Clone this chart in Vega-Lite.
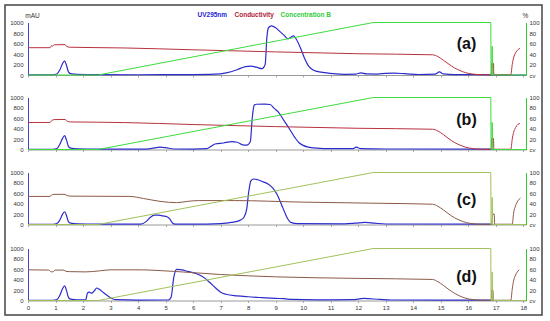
{
  "$schema": "https://vega.github.io/schema/vega-lite/v6.json",
  "width": 537,
  "height": 310,
  "padding": {"left": 5, "top": 5, "right": 8, "bottom": 6},
  "autosize": {"type": "none"},
  "config": {
    "font": "Liberation Sans",
    "view": {"stroke": "#444", "strokeWidth": 1.5},
    "axis": {"labelFont": "Liberation Sans", "labelFontSize": 6, "labelColor": "#333", "grid": false, "labelOverlap": false, "labelFlush": false, "titleFont": "Liberation Sans", "format": "d"},
    "line": {"strokeWidth": 1}
  },
  "datasets": {
    "a_uv": [{"x":0,"y":5},{"x":0.9,"y":5},{"x":1.05,"y":20},{"x":1.15,"y":90},{"x":1.25,"y":210},{"x":1.33,"y":270},{"x":1.4,"y":180},{"x":1.47,"y":60},{"x":1.55,"y":25},{"x":1.8,"y":12},{"x":2.5,"y":6},{"x":4,"y":5},{"x":6,"y":8},{"x":6.8,"y":15},{"x":7.2,"y":40},{"x":7.6,"y":100},{"x":7.9,"y":160},{"x":8.1,"y":170},{"x":8.3,"y":150},{"x":8.5,"y":120},{"x":8.62,"y":200},{"x":8.68,"y":700},{"x":8.74,"y":900},{"x":8.85,"y":935},{"x":9.0,"y":900},{"x":9.15,"y":830},{"x":9.3,"y":760},{"x":9.45,"y":690},{"x":9.55,"y":720},{"x":9.65,"y":745},{"x":9.75,"y":680},{"x":9.9,"y":520},{"x":10.05,"y":320},{"x":10.2,"y":170},{"x":10.35,"y":100},{"x":10.5,"y":70},{"x":10.8,"y":45},{"x":11.1,"y":25},{"x":11.5,"y":12},{"x":11.9,"y":15},{"x":12.1,"y":40},{"x":12.3,"y":20},{"x":12.7,"y":18},{"x":13.0,"y":32},{"x":13.3,"y":35},{"x":13.7,"y":25},{"x":14.2,"y":10},{"x":14.8,"y":15},{"x":14.95,"y":60},{"x":15.1,"y":20},{"x":15.5,"y":8},{"x":16.8,"y":8},{"x":16.85,"y":0},{"x":18.1,"y":0}],
    "a_cond": [{"x":0,"y":520},{"x":0.8,"y":520},{"x":0.85,"y":555},{"x":0.9,"y":550},{"x":0.95,"y":575},{"x":1.35,"y":578},{"x":1.4,"y":545},{"x":1.5,"y":530},{"x":2,"y":525},{"x":3.5,"y":515},{"x":6,"y":480},{"x":9,"y":440},{"x":12,"y":405},{"x":14.7,"y":385},{"x":14.9,"y":350},{"x":15.1,"y":280},{"x":15.3,"y":205},{"x":15.5,"y":135},{"x":15.7,"y":85},{"x":15.9,"y":45},{"x":16.1,"y":22},{"x":16.3,"y":10},{"x":16.5,"y":5},{"x":16.84,"y":5},{"x":16.85,"y":220},{"x":16.92,"y":220},{"x":16.93,"y":5},{"x":17.55,"y":5},{"x":17.6,"y":200},{"x":17.65,"y":330},{"x":17.72,"y":420},{"x":17.8,"y":480},{"x":17.88,"y":505}],
    "a_conc": [{"x":0,"y":0},{"x":2.55,"y":0},{"x":12.55,"y":100},{"x":16.82,"y":100},{"x":16.83,"y":0},{"x":16.86,"y":0},{"x":16.87,"y":55},{"x":16.89,"y":0},{"x":18.1,"y":0}],
    "b_uv": [{"x":0,"y":5},{"x":0.9,"y":5},{"x":1.05,"y":20},{"x":1.15,"y":90},{"x":1.25,"y":210},{"x":1.33,"y":265},{"x":1.4,"y":180},{"x":1.47,"y":60},{"x":1.55,"y":25},{"x":1.8,"y":12},{"x":2.5,"y":6},{"x":4.3,"y":8},{"x":4.6,"y":30},{"x":4.8,"y":45},{"x":5.0,"y":35},{"x":5.3,"y":10},{"x":6.0,"y":8},{"x":6.5,"y":15},{"x":6.65,"y":60},{"x":6.8,"y":105},{"x":7.1,"y":125},{"x":7.4,"y":150},{"x":7.6,"y":140},{"x":7.8,"y":90},{"x":7.95,"y":85},{"x":8.08,"y":150},{"x":8.15,"y":600},{"x":8.22,"y":850},{"x":8.3,"y":870},{"x":8.6,"y":872},{"x":8.8,"y":865},{"x":8.95,"y":790},{"x":9.1,"y":720},{"x":9.3,"y":560},{"x":9.5,"y":400},{"x":9.7,"y":230},{"x":9.85,"y":130},{"x":10.0,"y":80},{"x":10.15,"y":50},{"x":10.5,"y":25},{"x":11,"y":15},{"x":11.8,"y":15},{"x":11.93,"y":45},{"x":12.1,"y":15},{"x":13,"y":10},{"x":16.8,"y":8},{"x":16.85,"y":0},{"x":18.1,"y":0}],
    "b_cond": [{"x":0,"y":520},{"x":0.8,"y":520},{"x":0.85,"y":550},{"x":0.95,"y":575},{"x":1.35,"y":578},{"x":1.42,"y":545},{"x":1.55,"y":530},{"x":2.5,"y":525},{"x":3.5,"y":518},{"x":6,"y":480},{"x":9,"y":440},{"x":12,"y":408},{"x":14.7,"y":390},{"x":14.9,"y":355},{"x":15.1,"y":285},{"x":15.3,"y":205},{"x":15.5,"y":135},{"x":15.7,"y":85},{"x":15.9,"y":45},{"x":16.1,"y":22},{"x":16.3,"y":10},{"x":16.5,"y":5},{"x":16.84,"y":5},{"x":16.85,"y":210},{"x":16.92,"y":210},{"x":16.93,"y":5},{"x":17.55,"y":5},{"x":17.6,"y":200},{"x":17.65,"y":330},{"x":17.72,"y":420},{"x":17.8,"y":480},{"x":17.88,"y":500}],
    "b_conc": [{"x":0,"y":0},{"x":2.55,"y":0},{"x":12.55,"y":100},{"x":16.82,"y":100},{"x":16.83,"y":0},{"x":16.86,"y":0},{"x":16.87,"y":52},{"x":16.89,"y":0},{"x":18.1,"y":0}],
    "c_uv": [{"x":0,"y":5},{"x":0.9,"y":5},{"x":1.05,"y":20},{"x":1.15,"y":80},{"x":1.25,"y":190},{"x":1.33,"y":245},{"x":1.4,"y":170},{"x":1.47,"y":55},{"x":1.55,"y":25},{"x":1.8,"y":12},{"x":2.5,"y":6},{"x":4.1,"y":8},{"x":4.3,"y":60},{"x":4.45,"y":140},{"x":4.6,"y":180},{"x":4.75,"y":180},{"x":4.9,"y":165},{"x":5.05,"y":150},{"x":5.15,"y":110},{"x":5.25,"y":30},{"x":5.35,"y":8},{"x":6.5,"y":8},{"x":7.0,"y":15},{"x":7.4,"y":40},{"x":7.7,"y":80},{"x":7.85,"y":140},{"x":7.95,"y":300},{"x":8.02,"y":620},{"x":8.1,"y":840},{"x":8.2,"y":875},{"x":8.35,"y":860},{"x":8.55,"y":820},{"x":8.75,"y":770},{"x":8.9,"y":700},{"x":9.05,"y":580},{"x":9.2,"y":400},{"x":9.35,"y":210},{"x":9.45,"y":100},{"x":9.55,"y":40},{"x":9.8,"y":15},{"x":11.5,"y":12},{"x":11.9,"y":25},{"x":12.25,"y":40},{"x":12.6,"y":25},{"x":13,"y":10},{"x":16.8,"y":8},{"x":16.85,"y":0},{"x":18.1,"y":0}],
    "c_cond": [{"x":0,"y":540},{"x":0.8,"y":540},{"x":0.85,"y":565},{"x":0.95,"y":580},{"x":1.35,"y":580},{"x":1.42,"y":555},{"x":1.6,"y":545},{"x":3.7,"y":540},{"x":4.2,"y":500},{"x":4.8,"y":445},{"x":5.4,"y":420},{"x":5.8,"y":445},{"x":6.2,"y":460},{"x":7.5,"y":460},{"x":10,"y":430},{"x":12.5,"y":410},{"x":14.7,"y":390},{"x":14.9,"y":350},{"x":15.1,"y":280},{"x":15.3,"y":200},{"x":15.5,"y":130},{"x":15.7,"y":80},{"x":15.9,"y":40},{"x":16.1,"y":20},{"x":16.3,"y":8},{"x":16.5,"y":5},{"x":16.85,"y":5},{"x":16.9,"y":200},{"x":16.95,"y":200},{"x":16.96,"y":5},{"x":17.6,"y":5},{"x":17.65,"y":220},{"x":17.72,"y":360},{"x":17.8,"y":450},{"x":17.9,"y":510}],
    "c_conc": [{"x":0,"y":0},{"x":2.55,"y":0},{"x":12.55,"y":100},{"x":16.82,"y":100},{"x":16.83,"y":0},{"x":16.86,"y":0},{"x":16.87,"y":52},{"x":16.89,"y":0},{"x":18.1,"y":0}],
    "d_uv": [{"x":0,"y":5},{"x":0.9,"y":5},{"x":1.05,"y":20},{"x":1.15,"y":90},{"x":1.25,"y":220},{"x":1.33,"y":280},{"x":1.4,"y":190},{"x":1.47,"y":60},{"x":1.55,"y":25},{"x":1.8,"y":12},{"x":2.1,"y":15},{"x":2.16,"y":140},{"x":2.22,"y":160},{"x":2.32,"y":140},{"x":2.4,"y":180},{"x":2.5,"y":240},{"x":2.6,"y":210},{"x":2.75,"y":150},{"x":2.9,"y":90},{"x":3.05,"y":40},{"x":3.2,"y":15},{"x":4,"y":8},{"x":5.1,"y":10},{"x":5.2,"y":60},{"x":5.3,"y":450},{"x":5.4,"y":600},{"x":5.6,"y":590},{"x":5.8,"y":560},{"x":6.0,"y":535},{"x":6.2,"y":500},{"x":6.4,"y":440},{"x":6.6,"y":350},{"x":6.8,"y":250},{"x":7.0,"y":160},{"x":7.2,"y":120},{"x":7.6,"y":90},{"x":8.0,"y":72},{"x":8.5,"y":55},{"x":9.0,"y":40},{"x":9.3,"y":35},{"x":9.6,"y":20},{"x":10.5,"y":12},{"x":11.8,"y":15},{"x":12.2,"y":40},{"x":12.8,"y":20},{"x":13.2,"y":10},{"x":16.8,"y":8},{"x":16.85,"y":0},{"x":18.1,"y":0}],
    "d_cond": [{"x":0,"y":590},{"x":0.75,"y":585},{"x":0.85,"y":550},{"x":0.92,"y":555},{"x":0.98,"y":585},{"x":1.3,"y":585},{"x":1.38,"y":560},{"x":1.5,"y":555},{"x":2.1,"y":550},{"x":2.6,"y":570},{"x":3.0,"y":590},{"x":4.0,"y":590},{"x":5.3,"y":560},{"x":7.0,"y":500},{"x":9.0,"y":455},{"x":12,"y":425},{"x":14.7,"y":405},{"x":14.9,"y":360},{"x":15.1,"y":290},{"x":15.3,"y":210},{"x":15.5,"y":140},{"x":15.7,"y":85},{"x":15.9,"y":45},{"x":16.1,"y":22},{"x":16.3,"y":10},{"x":16.5,"y":5},{"x":16.84,"y":5},{"x":16.85,"y":200},{"x":16.9,"y":200},{"x":16.91,"y":5},{"x":17.55,"y":5},{"x":17.6,"y":220},{"x":17.65,"y":380},{"x":17.72,"y":490},{"x":17.8,"y":560},{"x":17.85,"y":590}],
    "d_conc": [{"x":0,"y":0},{"x":2.55,"y":0},{"x":12.55,"y":100},{"x":16.82,"y":100},{"x":16.83,"y":0},{"x":16.86,"y":0},{"x":16.87,"y":55},{"x":16.89,"y":0},{"x":18.1,"y":0}]
  },
  "layer": [
    {
      "data": {"name": "a_uv"},
      "mark": {"type": "line", "interpolate": "monotone", "strokeWidth": 1.2},
      "encoding": {
        "x": {"field": "x", "type": "quantitative", "scale": {"domain": [0, 18.1], "range": [23, 521], "nice": false},
          "axis": {"orient": "bottom", "offset": -240, "values": [0,1,2,3,4,5,6,7,8,9,10,11,12,13,14,15,16,17,18], "labels": false, "tickSize": 2, "domainColor": "#999", "tickColor": "#aaa",
            "title": "(a)", "titleX": 461, "titleY": -32, "titleAlign": "center", "titleBaseline": "middle", "titleFontSize": 16, "titleFontWeight": "bold", "titleColor": "#111"}},
        "y": {"field": "y", "type": "quantitative", "scale": {"domain": [0, 1000], "range": [70, 17.5], "nice": false},
          "axis": {"orient": "left", "offset": -23, "values": [0,200,400,600,800,1000], "ticks": false, "labelPadding": 5, "domainColor": "#4444cc",
            "title": "mAU", "titleAngle": 0, "titleX": 4, "titleY": 10, "titleAlign": "center", "titleBaseline": "middle", "titleFontSize": 6.5, "titleFontWeight": "normal", "titleColor": "#333"}},
        "color": {"datum": "UV295nm", "type": "nominal",
          "scale": {"domain": ["UV295nm", "Conductivity", "Concentration B"], "range": ["#2c2ccc", "#b8323f", "#3ddc3d"]},
          "legend": {"orient": "none", "legendX": 186, "legendY": 7, "direction": "horizontal", "title": null, "symbolSize": 0, "symbolStrokeWidth": 0, "symbolOpacity": 0, "labelOffset": 0, "columnPadding": 0, "labelFontSize": 6.5, "labelFontWeight": "bold", "labelFont": "Liberation Sans",
            "labelColor": {"expr": "datum.value == 'UV295nm' ? '#2424d8' : datum.value == 'Conductivity' ? '#b0203a' : '#2ecc40'"}}}
      }
    },
    {
      "data": {"name": "a_cond"},
      "mark": {"type": "line", "interpolate": "monotone"},
      "encoding": {
        "x": {"field": "x", "type": "quantitative", "scale": {"domain": [0, 18.1], "range": [23, 521], "nice": false}, "axis": null},
        "y": {"field": "y", "type": "quantitative", "scale": {"domain": [0, 1000], "range": [70, 17.5], "nice": false}, "axis": null},
        "color": {"datum": "Conductivity", "type": "nominal"}
      }
    },
    {
      "data": {"name": "a_conc"},
      "mark": {"type": "line"},
      "encoding": {
        "x": {"field": "x", "type": "quantitative", "scale": {"domain": [0, 18.1], "range": [23, 521], "nice": false}, "axis": null},
        "y": {"field": "y", "type": "quantitative", "scale": {"domain": [0, 100], "range": [70, 17.5], "nice": false},
          "axis": {"orient": "right", "offset": -16, "values": [0,20,40,60,80,100], "labelExpr": "datum.value == 0 ? 'cv' : datum.label", "ticks": false, "labelPadding": 3, "domainColor": "#33cc33",
            "title": "%", "titleAngle": 0, "titleX": -1, "titleY": 10, "titleAlign": "center", "titleBaseline": "middle", "titleFontSize": 6.5, "titleFontWeight": "normal", "titleColor": "#333"}},
        "color": {"datum": "Concentration B", "type": "nominal"}
      }
    },
    {
      "data": {"name": "b_uv"},
      "mark": {"type": "line", "interpolate": "monotone", "strokeWidth": 1.2, "color": "#2c2ccc"},
      "encoding": {
        "x": {"field": "x", "type": "quantitative", "scale": {"domain": [0, 18.1], "range": [23, 521], "nice": false},
          "axis": {"orient": "bottom", "offset": -165.5, "values": [0,1,2,3,4,5,6,7,8,9,10,11,12,13,14,15,16,17,18], "labels": false, "tickSize": 2, "domainColor": "#999", "tickColor": "#aaa",
            "title": "(b)", "titleX": 461, "titleY": -30.5, "titleAlign": "center", "titleBaseline": "middle", "titleFontSize": 16, "titleFontWeight": "bold", "titleColor": "#111"}},
        "y": {"field": "y", "type": "quantitative", "scale": {"domain": [0, 1000], "range": [144.5, 92.5], "nice": false},
          "axis": {"orient": "left", "offset": -23, "values": [0,200,400,600,800,1000], "ticks": false, "labelPadding": 5, "domainColor": "#4444cc", "title": null}}
      }
    },
    {
      "data": {"name": "b_cond"},
      "mark": {"type": "line", "interpolate": "monotone", "color": "#b8323f"},
      "encoding": {
        "x": {"field": "x", "type": "quantitative", "scale": {"domain": [0, 18.1], "range": [23, 521], "nice": false}, "axis": null},
        "y": {"field": "y", "type": "quantitative", "scale": {"domain": [0, 1000], "range": [144.5, 92.5], "nice": false}, "axis": null}
      }
    },
    {
      "data": {"name": "b_conc"},
      "mark": {"type": "line", "color": "#3ddc3d"},
      "encoding": {
        "x": {"field": "x", "type": "quantitative", "scale": {"domain": [0, 18.1], "range": [23, 521], "nice": false}, "axis": null},
        "y": {"field": "y", "type": "quantitative", "scale": {"domain": [0, 100], "range": [144.5, 92.5], "nice": false},
          "axis": {"orient": "right", "offset": -16, "values": [0,20,40,60,80,100], "labelExpr": "datum.value == 0 ? 'cv' : datum.label", "ticks": false, "labelPadding": 3, "domainColor": "#33cc33", "title": null}}
      }
    },
    {
      "data": {"name": "c_uv"},
      "mark": {"type": "line", "interpolate": "monotone", "strokeWidth": 1.2, "color": "#2c2ccc"},
      "encoding": {
        "x": {"field": "x", "type": "quantitative", "scale": {"domain": [0, 18.1], "range": [23, 521], "nice": false},
          "axis": {"orient": "bottom", "offset": -90.5, "values": [0,1,2,3,4,5,6,7,8,9,10,11,12,13,14,15,16,17,18], "labels": false, "tickSize": 2, "domainColor": "#999", "tickColor": "#aaa",
            "title": "(c)", "titleX": 461, "titleY": -25.5, "titleAlign": "center", "titleBaseline": "middle", "titleFontSize": 16, "titleFontWeight": "bold", "titleColor": "#111"}},
        "y": {"field": "y", "type": "quantitative", "scale": {"domain": [0, 1000], "range": [219.5, 167.5], "nice": false},
          "axis": {"orient": "left", "offset": -23, "values": [0,200,400,600,800,1000], "ticks": false, "labelPadding": 5, "domainColor": "#4444cc", "title": null}}
      }
    },
    {
      "data": {"name": "c_cond"},
      "mark": {"type": "line", "interpolate": "monotone", "color": "#8a5a48"},
      "encoding": {
        "x": {"field": "x", "type": "quantitative", "scale": {"domain": [0, 18.1], "range": [23, 521], "nice": false}, "axis": null},
        "y": {"field": "y", "type": "quantitative", "scale": {"domain": [0, 1000], "range": [219.5, 167.5], "nice": false}, "axis": null}
      }
    },
    {
      "data": {"name": "c_conc"},
      "mark": {"type": "line", "color": "#9fc25a"},
      "encoding": {
        "x": {"field": "x", "type": "quantitative", "scale": {"domain": [0, 18.1], "range": [23, 521], "nice": false}, "axis": null},
        "y": {"field": "y", "type": "quantitative", "scale": {"domain": [0, 100], "range": [219.5, 167.5], "nice": false},
          "axis": {"orient": "right", "offset": -16, "values": [0,20,40,60,80,100], "labelExpr": "datum.value == 0 ? 'cv' : datum.label", "ticks": false, "labelPadding": 3, "domainColor": "#33cc33", "title": null}}
      }
    },
    {
      "data": {"name": "d_uv"},
      "mark": {"type": "line", "interpolate": "monotone", "strokeWidth": 1.2, "color": "#2c2ccc"},
      "encoding": {
        "x": {"field": "x", "type": "quantitative", "scale": {"domain": [0, 18.1], "range": [23, 521], "nice": false},
          "axis": {"orient": "bottom", "offset": -14.5, "values": [0,1,2,3,4,5,6,7,8,9,10,11,12,13,14,15,16,17,18], "labels": true, "labelPadding": 2, "tickSize": 2, "domainColor": "#999", "tickColor": "#aaa",
            "title": "(d)", "titleX": 461, "titleY": -24, "titleAlign": "center", "titleBaseline": "middle", "titleFontSize": 16, "titleFontWeight": "bold", "titleColor": "#111"}},
        "y": {"field": "y", "type": "quantitative", "scale": {"domain": [0, 1000], "range": [295.5, 243.5], "nice": false},
          "axis": {"orient": "left", "offset": -23, "values": [0,200,400,600,800,1000], "ticks": false, "labelPadding": 5, "domainColor": "#4444cc", "title": null}}
      }
    },
    {
      "data": {"name": "d_cond"},
      "mark": {"type": "line", "interpolate": "monotone", "color": "#8a5a48"},
      "encoding": {
        "x": {"field": "x", "type": "quantitative", "scale": {"domain": [0, 18.1], "range": [23, 521], "nice": false}, "axis": null},
        "y": {"field": "y", "type": "quantitative", "scale": {"domain": [0, 1000], "range": [295.5, 243.5], "nice": false}, "axis": null}
      }
    },
    {
      "data": {"name": "d_conc"},
      "mark": {"type": "line", "color": "#9fc25a"},
      "encoding": {
        "x": {"field": "x", "type": "quantitative", "scale": {"domain": [0, 18.1], "range": [23, 521], "nice": false}, "axis": null},
        "y": {"field": "y", "type": "quantitative", "scale": {"domain": [0, 100], "range": [295.5, 243.5], "nice": false},
          "axis": {"orient": "right", "offset": -16, "values": [0,20,40,60,80,100], "labelExpr": "datum.value == 0 ? 'cv' : datum.label", "ticks": false, "labelPadding": 3, "domainColor": "#33cc33", "title": null}}
      }
    }
  ],
  "resolve": {
    "scale": {"x": "independent", "y": "independent"},
    "axis": {"x": "independent", "y": "independent"}
  }
}
